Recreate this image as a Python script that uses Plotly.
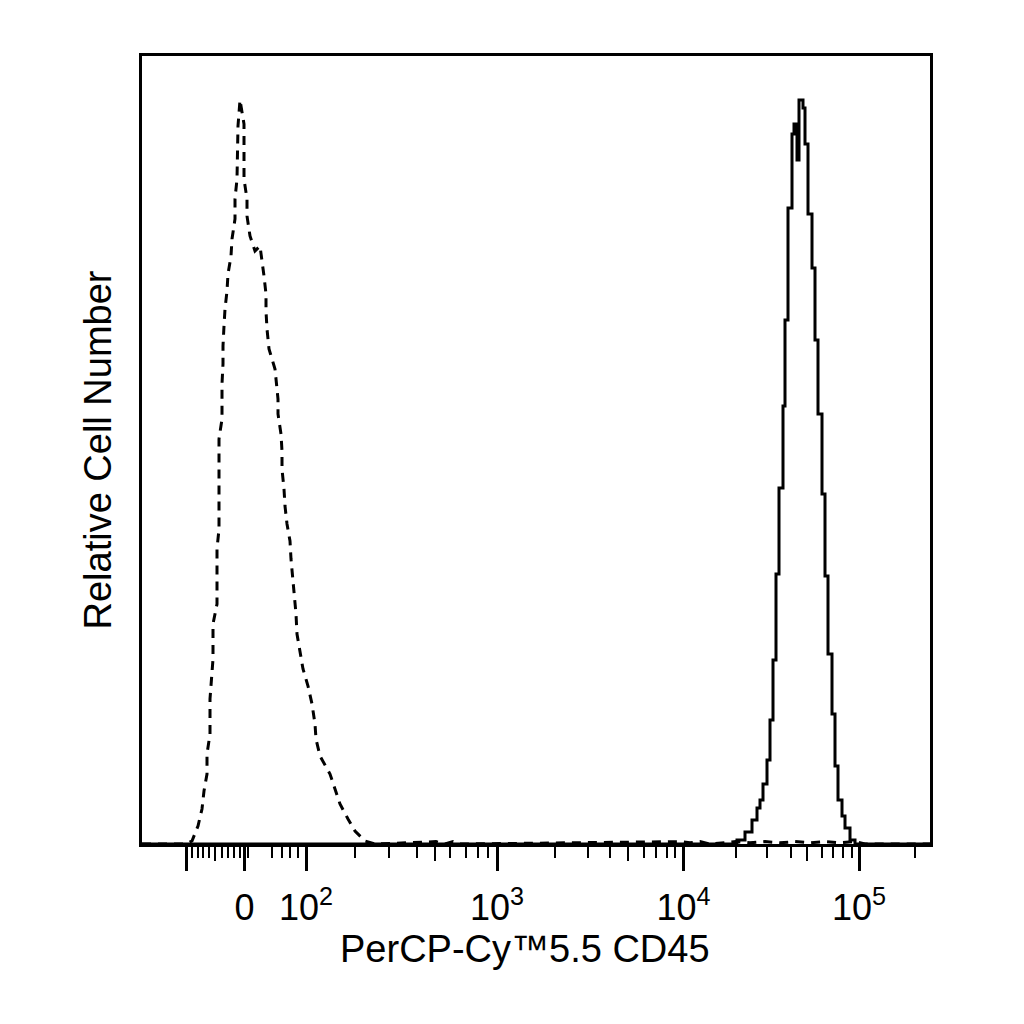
"""
Flow cytometry overlay histogram: PerCP-Cy5.5 CD45 vs isotype control.
x values are display channels on a biexponential scale (0..792).
"""

import plotly.graph_objects as go

# isotype control (dashed), display channel vs relative count
iso_channel = [
    2, 46, 52, 58, 62, 64, 67, 67, 70, 70, 73, 73, 77, 77, 79, 79, 82, 82, 83, 83,
    84, 85, 87, 88, 91, 92, 95, 95, 97, 98, 98, 100,
    104, 104, 107, 107, 110, 115, 120, 124, 126, 126, 127, 129, 135, 136, 138, 138,
    141, 142, 142, 144, 145, 147, 150, 151, 153, 156, 157, 160, 163, 168, 172, 175,
    176, 180, 190, 195, 200, 208, 215, 225, 235, 296, 305, 313, 320, 540, 550, 560,
    570, 596, 610, 625, 640, 655, 670, 685, 700, 715, 725, 790,
]
iso_count = [
    0, 0, 0.75, 4.5, 8.75, 13.25, 17.5, 22.5, 27.5, 36.25, 46.25, 55, 60, 73.75, 78.75,
    101.25, 106.25, 115, 120, 124.5, 129.5, 133.75, 138.25, 142.5, 147, 151.25, 156.25,
    161.25, 166.25, 175, 179.5, 186,
    180, 166.25, 161.25, 157, 152, 148.25, 149.5, 142, 137.5, 133.25, 128.75, 123.75,
    118.75, 116.25, 111.25, 107.5, 102.5, 98.25, 93.75, 88.75, 84.5, 80, 75.75, 71.25,
    66.25, 57.5, 52.5, 48.25, 43.75, 39.5, 35, 30, 26.25, 22, 17.5, 13.75, 10, 6.25,
    3.25, 0.75, 0, 0.6, 0, 0.6, 0, 0.6, 0.3, 0.6, 0, 0.6, 0.3, 0.6, 0.3, 0.6, 0.3, 0.6,
    0.3, 0.6, 0, 0,
]

# CD45 stained sample (solid), bin left edges and counts
cd45_channel = [
    2, 580, 597, 605, 612, 617, 620, 623, 627, 630, 633, 636, 639, 643, 645, 648, 652,
    654, 657, 659, 663, 665, 668, 672, 675, 678, 682, 685, 688, 692, 695, 698, 702, 705,
    710, 715, 790,
]
cd45_count = [
    0, 0, 1, 3, 6, 9, 11, 15, 21, 31, 46, 67.5, 89, 109.5, 131, 159, 177.5,
    180, 171, 186, 184, 175, 157.5, 144, 126, 107.5, 87.5, 67, 47.5, 32.5, 19.5, 11, 7,
    4, 1, 0, 0,
]

# axis ticks (display channel positions)
major_ticks = [46, 104.5, 166, 357, 543.5, 719]
major_labels = ["", "0", "10<sup>2</sup>", "10<sup>3</sup>", "10<sup>4</sup>", "10<sup>5</sup>"]
mid_ticks = [75, 295, 488, 667]
minor_ticks = [
    52, 58, 63, 69, 82, 88, 94, 100, 108,
    132, 142, 150, 158,
    215, 249, 277, 310, 326, 338, 348,
    415, 448, 470, 504, 516, 527, 535,
    596, 627, 651, 682, 693, 703, 712,
    775,
]

FONT = "Liberation Sans, Arial, sans-serif"

fig = go.Figure()

fig.add_trace(
    go.Scatter(
        x=iso_channel,
        y=iso_count,
        mode="lines",
        line={"color": "black", "width": 3, "dash": "9px,7px"},
        name="Isotype",
    )
)
fig.add_trace(
    go.Scatter(
        x=cd45_channel,
        y=cd45_count,
        mode="lines",
        line={"color": "black", "width": 3, "shape": "hv"},
        name="CD45",
    )
)
# carrier for the mid-length tick axis
fig.add_trace(go.Scatter(x=[], y=[], xaxis="x2", showlegend=False, hoverinfo="skip"))

fig.update_layout(
    width=1024,
    height=1024,
    margin={"l": 134, "r": 102, "t": 48, "b": 188},
    paper_bgcolor="white",
    plot_bgcolor="white",
    showlegend=False,
    font={"family": FONT, "size": 36, "color": "black"},
    xaxis={
        "range": [2, 790],
        "showgrid": False,
        "zeroline": False,
        "showline": True,
        "linecolor": "black",
        "linewidth": 3,
        "mirror": True,
        "ticks": "outside",
        "ticklen": 24,
        "tickwidth": 3,
        "tickcolor": "black",
        "tickvals": major_ticks,
        "ticktext": major_labels,
        "tickfont": {"family": FONT, "size": 36},
        "ticklabelstandoff": 6,
        "minor": {
            "tickvals": minor_ticks,
            "ticks": "outside",
            "ticklen": 11,
            "tickwidth": 2,
            "tickcolor": "black",
            "showgrid": False,
        },
    },
    xaxis2={
        "overlaying": "x",
        "side": "bottom",
        "range": [2, 790],
        "showgrid": False,
        "zeroline": False,
        "showline": False,
        "ticks": "outside",
        "ticklen": 16,
        "tickwidth": 2,
        "tickcolor": "black",
        "tickvals": mid_ticks,
        "showticklabels": False,
    },
    yaxis={
        "range": [0, 197],
        "showgrid": False,
        "zeroline": False,
        "showline": True,
        "linecolor": "black",
        "linewidth": 3,
        "mirror": True,
        "ticks": "",
        "showticklabels": False,
        "title": {
            "text": "Relative Cell Number",
            "font": {"family": FONT, "size": 38},
            "standoff": 16,
        },
    },
)

fig.add_annotation(
    text="PerCP-Cy™5.5 CD45",
    xref="paper",
    yref="paper",
    x=0.486,
    y=-0.133,
    xanchor="center",
    yanchor="middle",
    showarrow=False,
    font={"family": FONT, "size": 38, "color": "black"},
)

fig.write_html("out.html")
